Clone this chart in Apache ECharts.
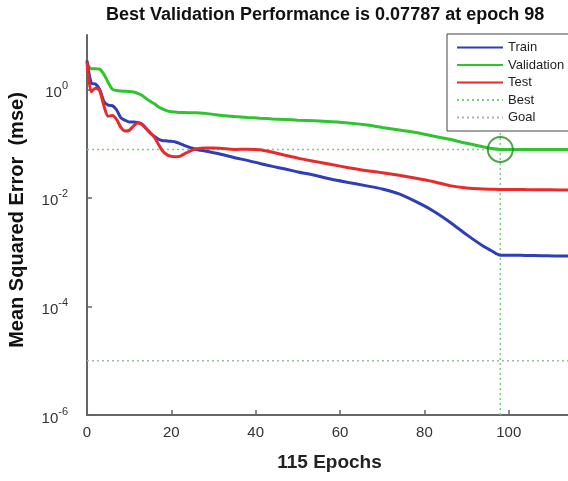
<!DOCTYPE html>
<html>
<head>
<meta charset="utf-8">
<script src="https://cdn.jsdelivr.net/npm/echarts@6/dist/echarts.min.js"></script>
<style>html,body{margin:0;padding:0;background:#fff;}#chart{width:568px;height:481px;}</style>
</head>
<body>
<div id="chart"></div>
<script>
var epochs = [0,1,2,3,4,5,6,7,8,9,10,11,12,13,14,15,16,17,18,19,20,21,22,23,24,25,26,28,30,32,35,38,41,44,47,50,54,58,62,66,70,74,78,82,86,90,94,96,98,100,104,108,112,115];
var trainMse = [3.4,1.3,1.25,1.0,0.6,0.51,0.5,0.42,0.3,0.27,0.25,0.25,0.245,0.23,0.19,0.155,0.135,0.12,0.113,0.112,0.11,0.107,0.1,0.093,0.087,0.082,0.078,0.073,0.068,0.063,0.055,0.049,0.043,0.038,0.034,0.030,0.026,0.022,0.0192,0.0168,0.0146,0.0118,0.0085,0.0058,0.0036,0.0021,0.00128,0.00105,0.00088,0.00088,0.00087,0.00086,0.00085,0.00085];
var valMse = [3.0,2.4,2.4,2.35,1.9,1.35,1.0,0.95,0.93,0.92,0.91,0.89,0.84,0.775,0.68,0.6,0.54,0.47,0.43,0.4,0.385,0.38,0.375,0.372,0.37,0.37,0.368,0.36,0.345,0.33,0.315,0.303,0.293,0.285,0.278,0.27,0.262,0.252,0.24,0.222,0.198,0.178,0.16,0.138,0.12,0.101,0.087,0.081,0.07787,0.0776,0.0781,0.0776,0.078,0.0779];
var testMse = [3.2,0.9,1.05,0.95,0.5,0.32,0.33,0.28,0.2,0.17,0.175,0.21,0.24,0.225,0.19,0.16,0.13,0.095,0.072,0.062,0.058,0.057,0.058,0.064,0.07,0.076,0.08,0.083,0.083,0.081,0.078,0.079,0.077,0.069,0.061,0.054,0.047,0.041,0.036,0.032,0.029,0.026,0.023,0.02,0.0168,0.0152,0.0145,0.0144,0.0143,0.0143,0.0142,0.0141,0.014,0.014];
var bestEpoch = 98;
var bestPerf = 0.07787;
var goal = 1e-5;
var totalEpochs = 115;
var yMin = 1e-6, yMax = 10;
var seriesNames = ['Train','Validation','Test','Best','Goal'];
var xTicks = [0,20,40,60,80,100];
var yTickExponents = [-6,-4,-2,0];

function pairs(xs, ys){ return xs.map(function(x,i){ return [x, ys[i]]; }); }

var FONT = "'Liberation Sans', Arial, sans-serif";
var chart = echarts.init(document.getElementById('chart'), null, {renderer:'canvas'});
chart.setOption({
  animation: false,
  backgroundColor: '#fff',
  title: {
    text: 'Best Validation Performance is ' + bestPerf + ' at epoch ' + bestEpoch,
    left: 106, top: 6, padding: 0,
    textStyle: {fontFamily: FONT, fontSize: 18, fontWeight: 'bold', color: '#111'}
  },
  legend: {
    data: seriesNames,
    orient: 'vertical',
    left: 447, top: 34,
    padding: [7, 30, 7, 9],
    itemWidth: 46, itemHeight: 14, itemGap: 4.5,
    backgroundColor: '#fff',
    borderColor: '#444', borderWidth: 1,
    borderRadius: 0,
    itemStyle: {opacity: 0},
    textStyle: {fontFamily: FONT, fontSize: 13, color: '#222'}
  },
  grid: {left: 87, width: 485, top: 35, height: 380, containLabel: false, outerBoundsMode: 'none'},
  xAxis: {
    type: 'value', min: 0, max: totalEpochs, interval: 20,
    name: totalEpochs + ' Epochs', nameLocation: 'middle', nameGap: 38,
    nameTextStyle: {fontFamily: FONT, fontSize: 19, fontWeight: 'bold', color: '#222'},
    axisLine: {lineStyle: {color: '#666', width: 2}},
    axisTick: {inside: true, length: 5, lineStyle: {color: '#666', width: 1.5}},
    axisLabel: {fontFamily: FONT, fontSize: 15, color: '#333', margin: 10,
      formatter: function(v){ return xTicks.indexOf(v) >= 0 ? String(v) : ''; }},
    splitLine: {show: false}
  },
  yAxis: {
    type: 'log', logBase: 10, min: yMin, max: yMax, interval: 2,
    name: 'Mean Squared Error  (mse)', nameLocation: 'middle', nameGap: 60, nameRotate: 90,
    nameTextStyle: {fontFamily: FONT, fontSize: 20, fontWeight: 'bold', color: '#111', padding: [0,0,0,10]},
    axisLine: {show: true, lineStyle: {color: '#666', width: 2}},
    axisTick: {inside: true, length: 5, lineStyle: {color: '#666', width: 1.5}},
    axisLabel: {
      margin: 19, showMaxLabel: false,
      formatter: function(v){
        var e = Math.round(Math.log10(v));
        if (yTickExponents.indexOf(e) < 0) return '';
        return '{b|10}{s|' + e + '}';
      },
      rich: {
        b: {fontFamily: FONT, fontSize: 15, color: '#333', padding: [7,0,0,0]},
        s: {fontFamily: FONT, fontSize: 11, color: '#333', padding: [0,0,7,0]}
      }
    },
    splitLine: {show: false}
  },
  series: [
    {name: 'Train', type: 'line', data: pairs(epochs, trainMse), symbol: 'none', smooth: 0.25,
     lineStyle: {color: '#2f3db8', width: 3}, itemStyle: {color: '#2f3db8'}, z: 4},
    {name: 'Validation', type: 'line', data: pairs(epochs, valMse), symbol: 'none', smooth: 0.25,
     lineStyle: {color: '#2ec42e', width: 3}, itemStyle: {color: '#2ec42e'}, z: 3},
    {name: 'Test', type: 'line', data: pairs(epochs, testMse), symbol: 'none', smooth: 0.25,
     lineStyle: {color: '#e82a2a', width: 3}, itemStyle: {color: '#e82a2a'}, z: 5},
    {name: 'Best', type: 'line', data: [[0, bestPerf], [totalEpochs, bestPerf]], symbol: 'none',
     lineStyle: {color: '#7ccc7c', width: 1.5, type: [2, 3]}, itemStyle: {color: '#7ccc7c'}, z: 2},
    {name: 'Best', type: 'line', data: [[bestEpoch, yMin], [bestEpoch, yMax]], symbol: 'none',
     lineStyle: {color: '#7ccc7c', width: 1.5, type: [2, 3]}, itemStyle: {color: '#7ccc7c'}, z: 2},
    {name: 'Goal', type: 'line', data: [[0, goal], [totalEpochs, goal]], symbol: 'none',
     lineStyle: {color: '#9fba9f', width: 1.5, type: [2, 3]}, itemStyle: {color: '#9fba9f'}, z: 2},
    {name: 'BestPoint', type: 'scatter', data: [[bestEpoch, bestPerf]], symbol: 'circle', symbolSize: 25,
     itemStyle: {color: 'rgba(0,0,0,0)', borderColor: '#1a8f1a', borderWidth: 2}, z: 6, silent: true}
  ]
});
</script>
</body>
</html>
